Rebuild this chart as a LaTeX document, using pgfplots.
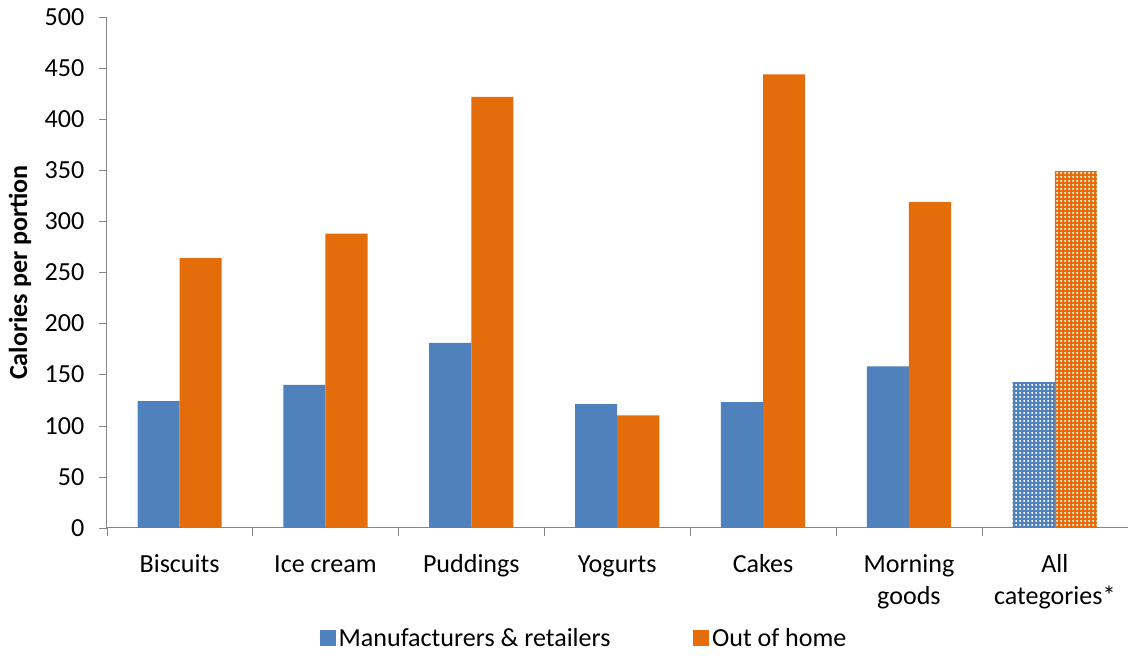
\documentclass[border=0pt]{standalone}
\usepackage{pgfplots}
\pgfplotsset{compat=1.18}
\usepackage{fontspec}
\setmainfont{Carlito}
\usetikzlibrary{patterns}
\definecolor{cblue}{HTML}{4F81BD}
\definecolor{corange}{HTML}{E46C0A}
\definecolor{axgray}{HTML}{868686}
\pgfdeclarepatternformonly{densegrid}{\pgfpointorigin}{\pgfqpoint{3.3pt}{3.3pt}}{\pgfqpoint{3.3pt}{3.3pt}}{%
  \pgfpathrectangle{\pgfpointorigin}{\pgfqpoint{3.3pt}{1.9pt}}%
  \pgfpathrectangle{\pgfpointorigin}{\pgfqpoint{1.9pt}{3.3pt}}%
  \pgfusepath{fill}}
\begin{document}
\fontsize{19.5}{23}\selectfont
\begin{tikzpicture}
\begin{axis}[
  scale only axis,
  width=764pt, height=382pt,
  xmin=-0.5, xmax=6.5,
  ymin=0, ymax=500,
  ytick={0,50,...,500},
  xtick={0,1,2,3,4,5,6},
  xticklabels={Biscuits\strut,Ice cream\strut,Puddings\strut,Yogurts\strut,Cakes\strut,{Morning\strut\\goods},{All\strut\\categories*}},
  xticklabel style={align=center, yshift=-4pt},
  major x tick style={draw=none},
  minor xtick={-0.5,0.5,...,6.5},
  minor tick length=6pt,
  major tick length=6pt,
  tick align=outside,
  axis x line*=bottom,
  axis y line*=left,
  axis line style={axgray, -},
  tick style={axgray},
  every tick label/.append style={font=\fontsize{19.5}{24}\selectfont},
  /pgf/number format/assume math mode=true,
  yticklabel style={xshift=-4pt},
  ylabel={\bfseries Calories per portion},
  ylabel style={font=\fontsize{19.5}{23}\selectfont, yshift=-3pt},
  legend style={at={(0.468,-0.218)}, anchor=center, draw=none, legend columns=2,
    font=\fontsize{19.5}{23}\selectfont,
    /tikz/every even column/.append style={column sep=60pt}},
  legend image code/.code={\fill[#1] (0pt,-5.5pt) rectangle (12pt,6.5pt);},
]
\addplot[ybar, bar width=31.5pt, bar shift=-15.75pt, fill=cblue, draw=none]
  coordinates {(0,124) (1,140) (2,181) (3,121) (4,123) (5,158)};
\addlegendentry{Manufacturers \& retailers}
\addplot[ybar, bar width=31.5pt, bar shift=15.75pt, fill=corange, draw=none]
  coordinates {(0,264) (1,288) (2,422) (3,110) (4,444) (5,319)};
\addlegendentry{Out of home}
\addplot[ybar, bar width=31.5pt, bar shift=-15.75pt, pattern=densegrid, pattern color=cblue, draw=none, forget plot]
  coordinates {(6,142)};
\addplot[ybar, bar width=31.5pt, bar shift=15.75pt, pattern=densegrid, pattern color=corange, draw=none, forget plot]
  coordinates {(6,349)};
\end{axis}
\end{tikzpicture}
\end{document}
